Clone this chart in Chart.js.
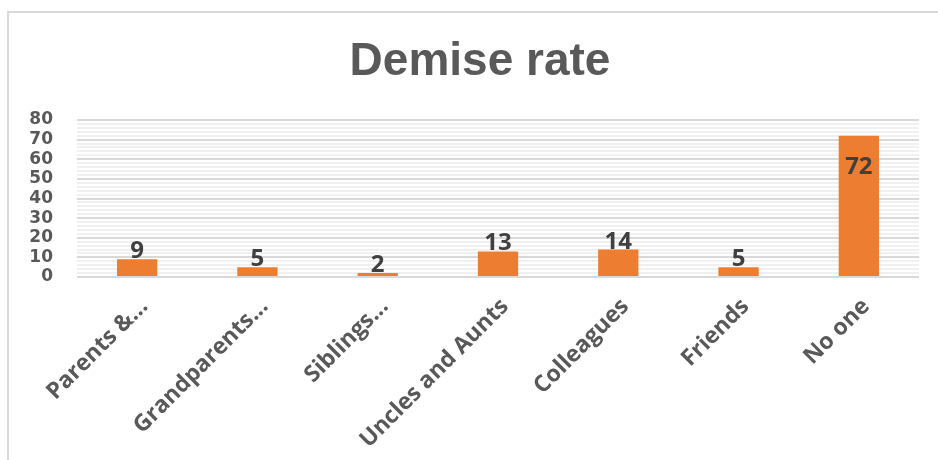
<!DOCTYPE html>
<html>
<head>
<meta charset="utf-8">
<script src="https://cdn.jsdelivr.net/npm/chart.js@4/dist/chart.umd.min.js"></script>
<style>
  html, body { margin: 0; padding: 0; background: #ffffff; }
  #wrap { position: relative; width: 938px; height: 460px; overflow: hidden; }
  #frame { position: absolute; left: 7px; top: 11px; width: 940px; height: 460px;
           border-left: 2px solid #d9d9d9; border-top: 2px solid #d9d9d9; box-sizing: border-box; }
  canvas { position: absolute; left: 0; top: 0; }
</style>
</head>
<body>
<div id="wrap">
  <div id="frame"></div>
  <canvas id="c" width="938" height="460"></canvas>
</div>
<script>
const titleText = 'Demise rate';
const categories = ['Parents &...', 'Grandparents...', 'Siblings...', 'Uncles and Aunts', 'Colleagues', 'Friends', 'No one'];
const values = [9, 5, 2, 13, 14, 5, 72];
const yMin = 0;
const yMax = 80;
const yStep = 2;
const yLabelEvery = 10;

const titlePlugin = {
  id: 'customTitle',
  afterDraw(chart) {
    const ctx = chart.ctx;
    ctx.save();
    ctx.font = 'bold 46px "Liberation Sans", Arial, sans-serif';
    ctx.fillStyle = '#595959';
    ctx.textAlign = 'center';
    ctx.textBaseline = 'alphabetic';
    ctx.fillText(titleText, 480, 75);
    ctx.restore();
  }
};

const valueLabels = {
  id: 'valueLabels',
  afterDatasetsDraw(chart) {
    const ctx = chart.ctx;
    const meta = chart.getDatasetMeta(0);
    const top = chart.chartArea.top;
    ctx.save();
    ctx.font = 'bold 24px "Open Sans", sans-serif';
    ctx.fillStyle = '#404040';
    ctx.textAlign = 'center';
    ctx.textBaseline = 'alphabetic';
    meta.data.forEach((bar, i) => {
      let y = bar.y - 1;
      if (y - 18 < top) y = bar.y + 38;
      ctx.fillText(String(chart.data.datasets[0].data[i]), bar.x, y);
    });
    ctx.restore();
  }
};

new Chart(document.getElementById('c'), {
  type: 'bar',
  data: {
    labels: categories,
    datasets: [{
      data: values,
      backgroundColor: '#ED7D31',
      borderWidth: 0,
      categoryPercentage: 1.0,
      barPercentage: 0.335
    }]
  },
  options: {
    responsive: false,
    animation: false,
    layout: { padding: { top: 120, right: 19, left: 0, bottom: 0 } },
    plugins: {
      legend: { display: false },
      title: { display: false },
      tooltip: { enabled: false }
    },
    scales: {
      x: {
        grid: { display: false, drawTicks: false },
        border: { display: false },
        ticks: {
          autoSkip: false,
          minRotation: 45,
          maxRotation: 45,
          padding: 16,
          labelOffset: 7,
          color: '#595959',
          font: { family: '"Open Sans", sans-serif', size: 23, weight: 'bold' }
        },
        afterFit(scale) { scale.height = 183; }
      },
      y: {
        min: yMin,
        max: yMax,
        grid: {
          drawTicks: false,
          lineWidth: 2,
          color: (c) => (c.tick && c.tick.value % yLabelEvery === 0) ? '#d9d9d9' : '#f0f0f0'
        },
        border: { display: false },
        ticks: {
          stepSize: yStep,
          autoSkip: false,
          padding: 24,
          color: '#595959',
          font: { family: '"DejaVu Sans", sans-serif', size: 17, weight: 'bold' },
          callback: (v) => (v % yLabelEvery === 0 ? String(v) : '')
        },
        afterFit(scale) { scale.width = 77; }
      }
    }
  },
  plugins: [titlePlugin, valueLabels]
});
</script>
</body>
</html>
